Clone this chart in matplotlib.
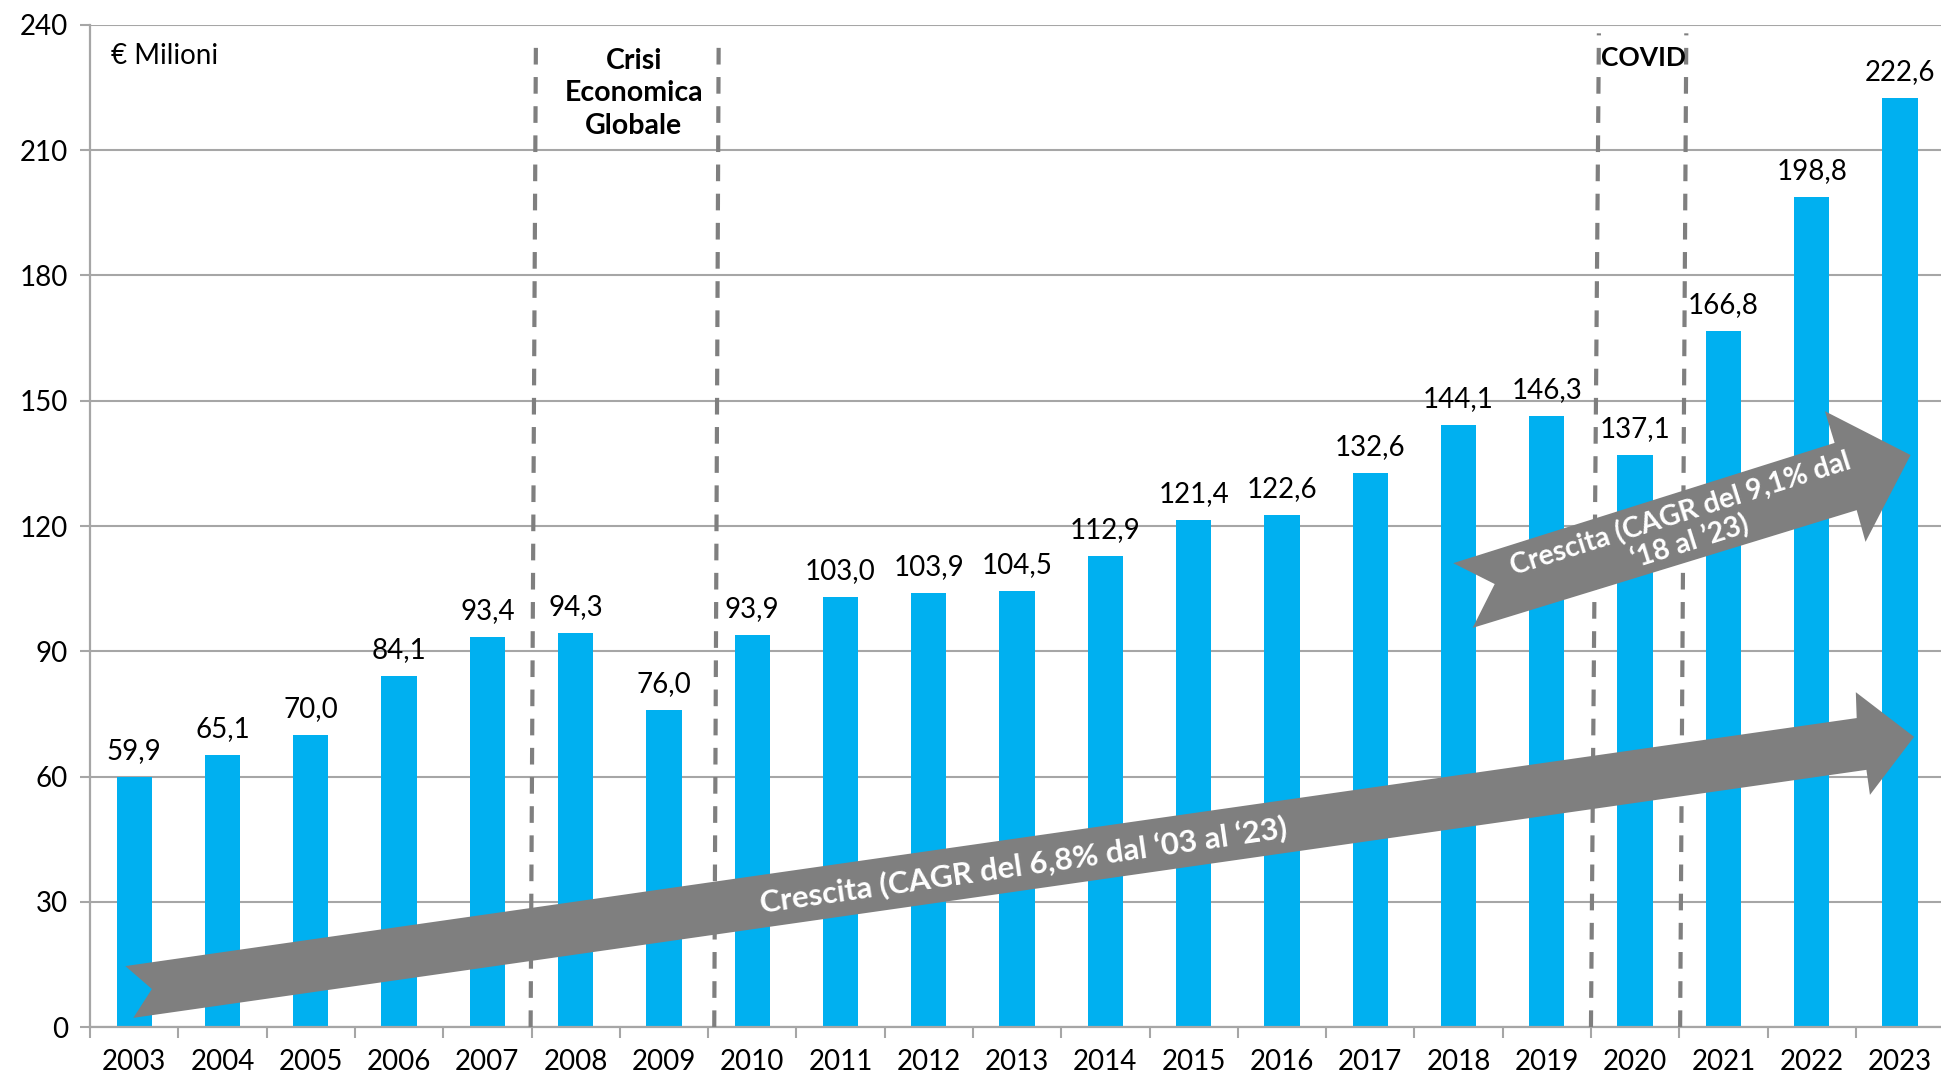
import numpy as np
import matplotlib
matplotlib.use('Agg')
import matplotlib.pyplot as plt
from matplotlib.patches import Polygon

plt.rcParams['font.family'] = ['Lato', 'DejaVu Sans']

years = ['2003', '2004', '2005', '2006', '2007', '2008', '2009', '2010', '2011', '2012',
         '2013', '2014', '2015', '2016', '2017', '2018', '2019', '2020', '2021', '2022', '2023']
values = [59.9, 65.1, 70.0, 84.1, 93.4, 94.3, 76.0, 93.9, 103.0, 103.9,
          104.5, 112.9, 121.4, 122.6, 132.6, 144.1, 146.3, 137.1, 166.8, 198.8, 222.6]
yticks = [0, 30, 60, 90, 120, 150, 180, 210, 240]

bar_col = '#00B0F0'
grey = '#7F7F7F'
grid_col = '#A6A6A6'

fig = plt.figure(figsize=(19.41, 10.77), dpi=100)
ax = fig.add_axes([0.0464, 0.0464, 0.9552, 0.9304])

x = np.arange(len(years))
ax.bar(x, values, width=0.4, color=bar_col, zorder=2)

ax.set_xlim(-0.5, 20.5)
ax.set_ylim(0, 240)
ax.set_yticks(yticks)
ax.set_yticklabels([str(v) for v in yticks])
ax.yaxis.grid(True, color=grid_col, lw=1.5)
ax.set_axisbelow(True)

# category boundaries as major ticks, year labels as minor ticks
ax.set_xticks(np.arange(-0.5, 21, 1))
ax.set_xticklabels([])
ax.set_xticks(x, minor=True)
ax.set_xticklabels(years, minor=True)
ax.tick_params(axis='x', which='major', length=8, width=1.5, color=grid_col, direction='out')
ax.tick_params(axis='x', which='minor', length=0, pad=16, labelsize=20)
ax.tick_params(axis='y', length=7, width=1.5, color=grid_col, pad=9, labelsize=20)

for s in ['top', 'right']:
    ax.spines[s].set_visible(False)
for s in ['left', 'bottom']:
    ax.spines[s].set_color(grid_col)
    ax.spines[s].set_linewidth(1.6)

# value labels
for xi, v in zip(x, values):
    ax.annotate(f'{v:.1f}'.replace('.', ','), (xi, v), xytext=(0, 13), textcoords='offset points',
                ha='center', va='baseline', fontsize=20, zorder=5)

# dashed period separators
for (xb, xt, yt) in [(4.49, 4.55, 236.5), (6.57, 6.62, 236.5), (16.50, 16.59, 238), (17.51, 17.58, 238)]:
    ax.plot([xb, xt], [0, yt], color=grey, lw=3, dashes=(4, 3), zorder=3)

ax.text(5.66, 234.5, 'Crisi\nEconomica\nGlobale', ha='center', va='top', fontsize=20.5,
        fontweight='bold', linespacing=1.3)
ax.text(17.09, 232, 'COVID', ha='center', va='center', fontsize=19, fontweight='bold')
ax.text(-0.26, 232.5, '€ Milioni', ha='left', va='center', fontsize=20)

# growth arrows
big = [(-0.10, 14.6), (19.51, 74.0), (19.50, 80.2), (20.16, 69.5),
       (19.66, 55.6), (19.62, 61.6), (-0.01, 2.2), (0.20, 9.1)]
small = [(14.94, 111.1), (19.26, 139.9), (19.15, 147.5), (20.12, 137.0),
         (19.61, 116.2), (19.51, 123.8), (15.16, 95.6), (15.41, 106.1)]
for pts in (big, small):
    ax.add_patch(Polygon(pts, closed=True, facecolor=grey, edgecolor='none', zorder=4))


def edge_angle(p0, p1):
    a = ax.transData.transform(p0)
    b = ax.transData.transform(p1)
    return np.degrees(np.arctan2(b[1] - a[1], b[0] - a[0]))


ax.text(10.07, 38.9, 'Crescita (CAGR del 6,8% dal \u201803 al \u201823)', color='white',
        fontsize=22.5, fontweight='bold', ha='center', va='center',
        rotation=edge_angle(big[0], big[1]), rotation_mode='anchor', zorder=6)
ax.text(17.57, 119.5, 'Crescita (CAGR del 9,1% dal\n\u201818 al \u201923)', color='white',
        fontsize=20.5, fontweight='bold', ha='center', va='center', multialignment='center',
        linespacing=1.1, rotation=edge_angle(small[0], small[1]), rotation_mode='anchor', zorder=6)

fig.savefig('out.png', dpi=100)
